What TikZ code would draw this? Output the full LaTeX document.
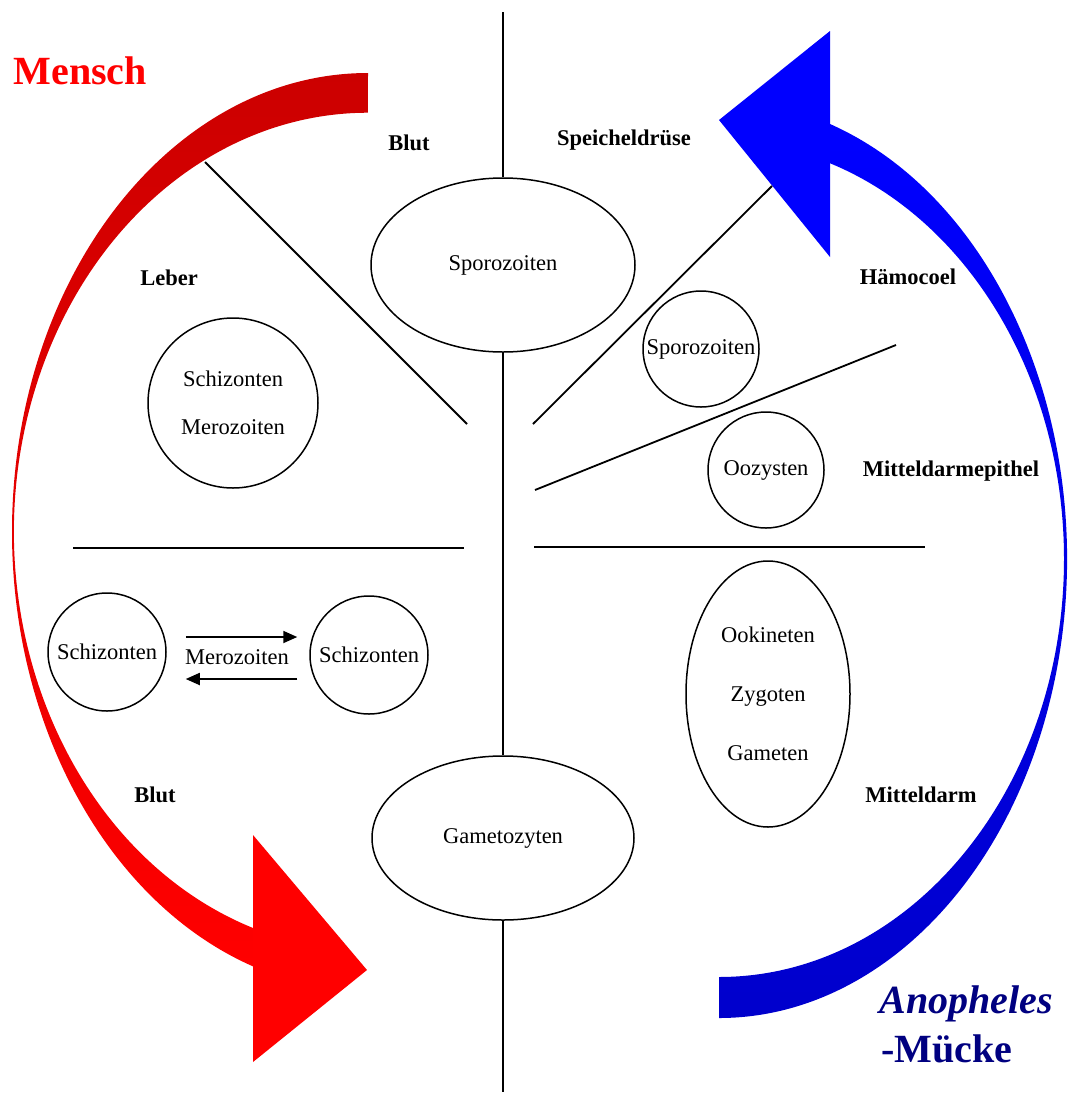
\documentclass[tikz,border=0pt]{standalone}
\usepackage{fontspec}
\setmainfont{Liberation Serif}
\usetikzlibrary{shapes.geometric,arrows.meta}
\definecolor{dred}{RGB}{204,0,0}
\definecolor{bred}{RGB}{255,0,0}
\definecolor{bblue}{RGB}{0,0,255}
\definecolor{dblue}{RGB}{0,0,204}
\definecolor{navyc}{RGB}{0,0,128}
\begin{document}
\begin{tikzpicture}[x=1pt,y=1pt,
  ln/.style={line width=1.8pt},
  txt/.style={font=\fontsize{22.5}{26}\selectfont},
  cell/.style={draw,line width=1.5pt,circle,inner sep=0pt,align=center,txt},
  ell/.style={draw,line width=1.5pt,ellipse,inner sep=0pt,align=center,txt},
  lab/.style={font=\fontsize{22.5}{26}\selectfont\bfseries},
  arr/.style={line width=1.8pt,-{Triangle[length=14pt,width=12pt]}}
]
\useasboundingbox (0,0) rectangle (1068,-1093);

% vertical axis
\coordinate (vtop) at (503,-12);
\coordinate (vbot) at (503,-1092);
\node[ell,minimum width=264pt,minimum height=174pt] (spor) at (503,-265) {Sporozoiten};
\node[ell,minimum width=262pt,minimum height=164pt] (gam) at (503,-838) {Gametozyten};
\draw[ln] (vtop) -- (spor.north);
\draw[ln] (spor.south) -- (gam.north);
\draw[ln] (gam.south) -- (vbot);

% dividers
\coordinate (d1a) at (205,-162); \coordinate (d1b) at (467,-424);
\coordinate (d2a) at (533,-424); \coordinate (d2b) at (772,-186);
\coordinate (d3a) at (535,-490); \coordinate (d3b) at (896,-345);
\coordinate (d4a) at (73,-548);  \coordinate (d4b) at (464,-548);
\coordinate (d5a) at (534,-547); \coordinate (d5b) at (925,-547);
\draw[ln] (d1a) -- (d1b);
\draw[ln] (d2a) -- (d2b);
\draw[ln] (d3a) -- (d3b);
\draw[ln] (d4a) -- (d4b);
\draw[ln] (d5a) -- (d5b);

% cells
\node[cell,minimum size=170pt] (leber) at (233,-403) {Schizonten\\[22pt]Merozoiten};
\node[cell,minimum size=116pt] (sporR) at (701,-349) {Sporozoiten};
\node[cell,minimum size=116pt] (oo) at (766,-470) {Oozysten};
\node[ell,minimum width=164pt,minimum height=266pt] (oki) at (768,-694) {Ookineten\\[33pt]Zygoten\\[33pt]Gameten};
\node[cell,minimum size=118pt] (schL) at (107,-652) {Schizonten};
\node[cell,minimum size=118pt] (schR) at (369,-655) {Schizonten};
\draw[arr] ([xshift=19pt,yshift=15pt]schL.east) -- ([xshift=-12pt,yshift=18pt]schR.west);
\draw[arr] ([xshift=-12pt,yshift=-24pt]schR.west) -- ([xshift=19pt,yshift=-27pt]schL.east);
\node[txt] (mero) at (237,-657) {Merozoiten};

% labels
\node[lab] (l1) at (409,-143) {Blut};
\node[lab] (l2) at (624,-140) {Speicheldrüse};
\node[lab] (l3) at (169,-278) {Leber};
\node[lab] (l4) at (908,-277) {Hämocoel};
\node[lab] (l5) at (951,-471) {Mitteldarmepithel};
\node[lab] (l6) at (155,-795) {Blut};
\node[lab] (l7) at (921,-795) {Mitteldarm};

% red arrow (Mensch)
\shade[top color=dred,bottom color=bred]
  (368,-73) arc[start angle=90,end angle=251.2,x radius=356pt,y radius=459pt]
  -- (253,-928) arc[start angle=251.05,end angle=90,x radius=354pt,y radius=419pt]
  -- cycle;
\fill[bred] (253,-835) -- (367,-970) -- (253,-1062) -- cycle;

% blue arrow (Anopheles)
\shade[top color=bblue,bottom color=dblue]
  (830,-124) arc[start angle=71.4,end angle=-90,x radius=348pt,y radius=459pt]
  -- (719,-977) arc[start angle=-90,end angle=71.2,x radius=345pt,y radius=418pt]
  -- cycle;
\fill[bblue] (830,-31) -- (719,-120) -- (830,-257) -- cycle;

\node[anchor=base west,text=bred,font=\fontsize{40}{44}\selectfont\bfseries] (mensch) at (10,-84) {Mensch};
\node[anchor=base west,text=navyc,font=\fontsize{40}{44}\selectfont\bfseries\itshape] (anoph) at (876,-1013) {Anopheles};
\node[anchor=base west,text=navyc,font=\fontsize{40}{44}\selectfont\bfseries] (muecke) at (878,-1062) {-Mücke};
\end{tikzpicture}
\end{document}
